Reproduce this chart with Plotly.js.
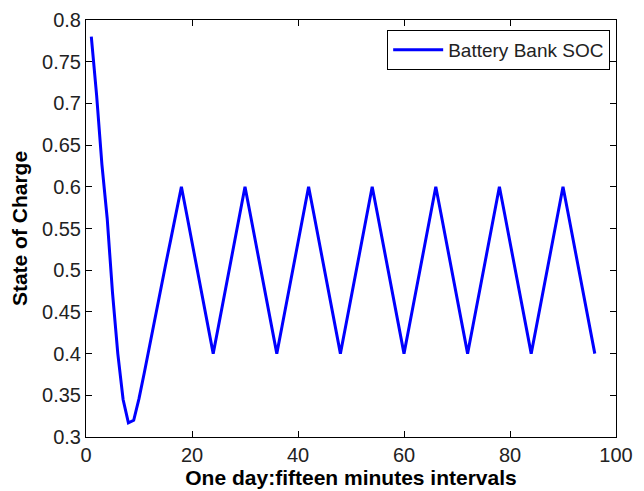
<!DOCTYPE html>
<html>
<head>
<meta charset="utf-8">
<script src="https://cdn.plot.ly/plotly-3.0.1.min.js"></script>
<style>html,body{margin:0;padding:0;background:#fff;}#chart{width:644px;height:491px;}</style>
</head>
<body>
<div id="chart"></div>
<script>
// Battery bank state of charge, one value per 15-minute interval (1..96)
var socValues = [
  0.78, 0.71, 0.627, 0.562, 0.473, 0.40, 0.345, 0.317, 0.320, 0.346,
  0.377, 0.41, 0.442, 0.474, 0.506, 0.537, 0.568, 0.6,
  0.567, 0.533, 0.5, 0.467, 0.433, 0.4,
  0.433, 0.467, 0.5, 0.533, 0.567, 0.6,
  0.567, 0.533, 0.5, 0.467, 0.433, 0.4,
  0.433, 0.467, 0.5, 0.533, 0.567, 0.6,
  0.567, 0.533, 0.5, 0.467, 0.433, 0.4,
  0.433, 0.467, 0.5, 0.533, 0.567, 0.6,
  0.567, 0.533, 0.5, 0.467, 0.433, 0.4,
  0.433, 0.467, 0.5, 0.533, 0.567, 0.6,
  0.567, 0.533, 0.5, 0.467, 0.433, 0.4,
  0.433, 0.467, 0.5, 0.533, 0.567, 0.6,
  0.567, 0.533, 0.5, 0.467, 0.433, 0.4,
  0.433, 0.467, 0.5, 0.533, 0.567, 0.6,
  0.567, 0.533, 0.5, 0.467, 0.433, 0.4
];
var intervals = socValues.map(function (_, i) { return i + 1; });
var seriesName = "Battery Bank SOC";
var xTitle = "One day:fifteen minutes intervals";
var yTitle = "State of Charge";

var FONT = '"Liberation Sans", Arial, Helvetica, sans-serif';

var trace = {
  x: intervals,
  y: socValues,
  type: 'scatter',
  mode: 'lines',
  name: seriesName,
  line: {color: '#0000FF', width: 3},
  showlegend: true
};

var axisCommon = {
  showline: true, linecolor: '#000', linewidth: 1,
  mirror: 'ticks', ticks: 'inside', ticklen: 6, tickcolor: '#000', tickwidth: 1,
  showgrid: false, zeroline: false,
  tickfont: {family: FONT, size: 20, color: '#222'}
};

var layout = {
  width: 644, height: 491,
  margin: {l: 86, r: 28, t: 20, b: 54},
  paper_bgcolor: '#fff', plot_bgcolor: '#fff',
  font: {family: FONT, color: '#000'},
  xaxis: Object.assign({}, axisCommon, {
    range: [0, 100], dtick: 20, tick0: 0,
    title: {text: xTitle, font: {family: FONT, size: 21, color: '#000', weight: 'bold'}, standoff: 2}
  }),
  yaxis: Object.assign({}, axisCommon, {
    range: [0.3, 0.8], dtick: 0.05, tick0: 0.3,
    title: {text: yTitle, font: {family: FONT, size: 21, color: '#000', weight: 'bold'}, standoff: 8}
  }),
  legend: {
    x: 0.989, xanchor: 'right', y: 0.976, yanchor: 'top',
    bgcolor: '#fff', bordercolor: '#000', borderwidth: 1,
    itemwidth: 50,
    font: {family: FONT, size: 19, color: '#222'}
  },
  showlegend: true
};

Plotly.newPlot('chart', [trace], layout, {displayModeBar: false, staticPlot: true});
</script>
</body>
</html>
